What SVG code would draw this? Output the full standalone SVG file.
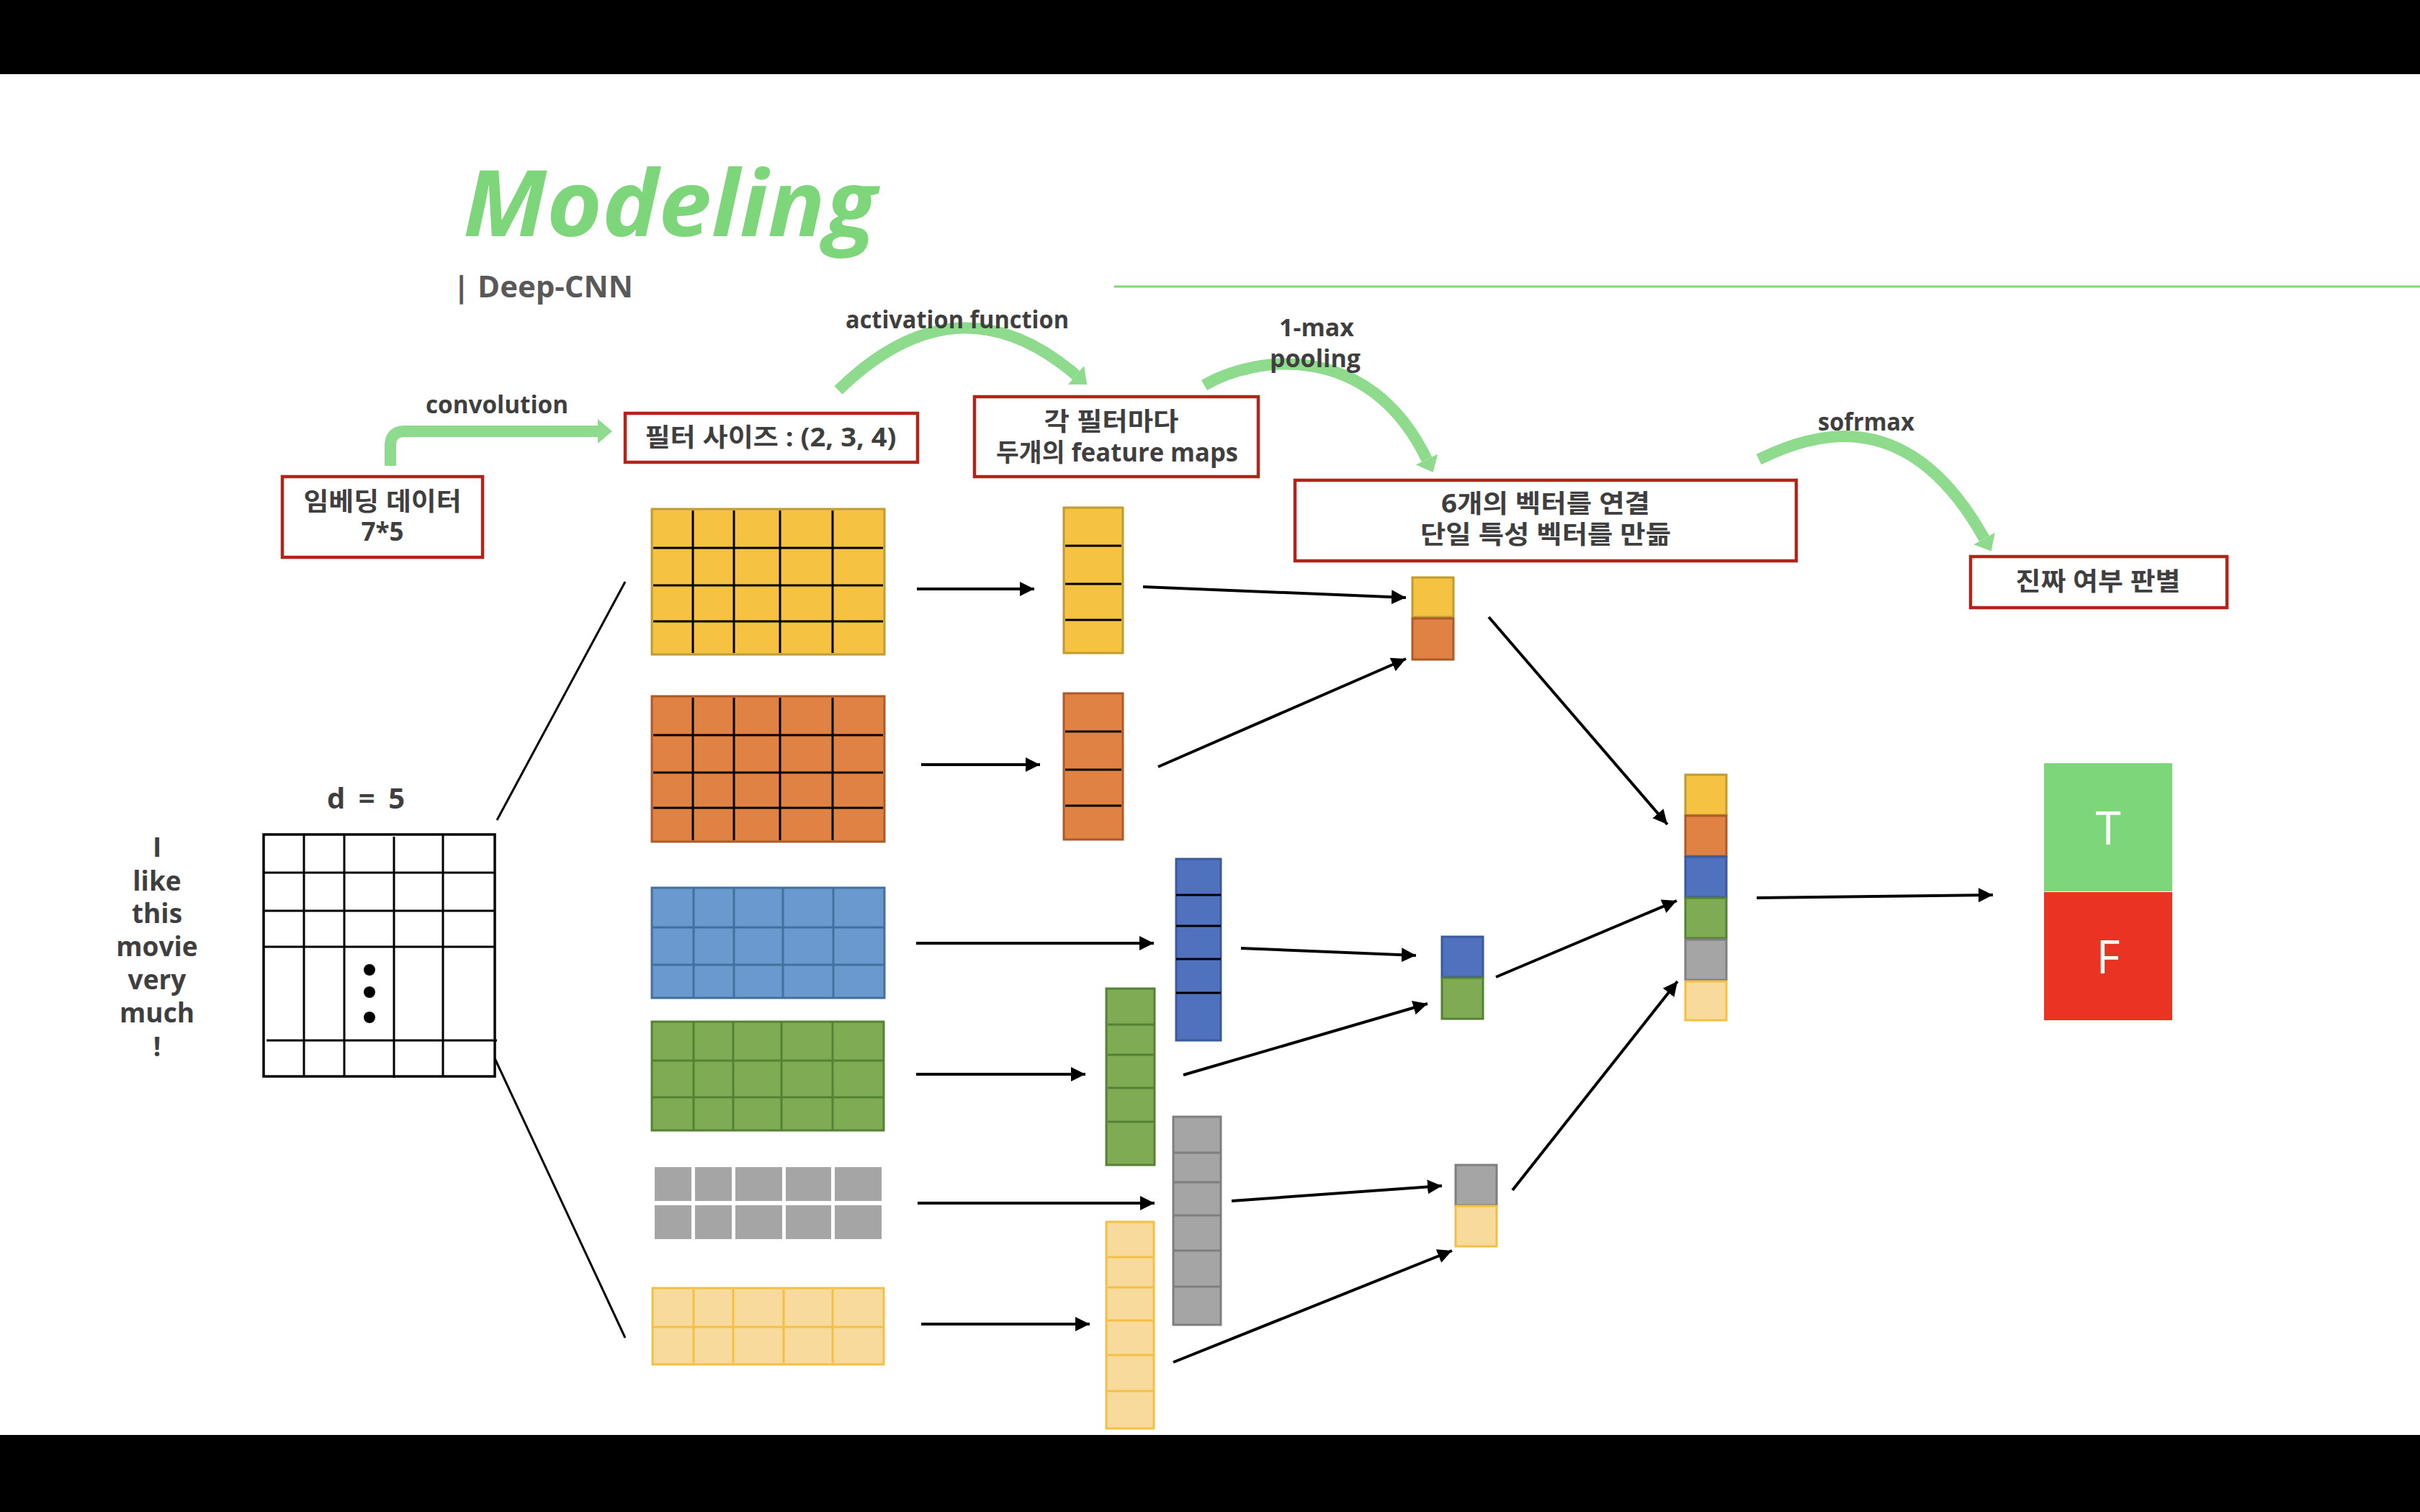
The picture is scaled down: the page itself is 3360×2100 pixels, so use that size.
<svg xmlns="http://www.w3.org/2000/svg" width="3360" height="2100" viewBox="0 0 3360 2100">
<style>
.t{font-family:'Open Sans','Noto Sans CJK KR',sans-serif;font-weight:bold;fill:#3F3F3F;text-anchor:middle}
.lb{font-size:34px}
.bx{font-size:35px}
.box{fill:#fff;stroke:#B2241A;stroke-width:4.5}
.ga{fill:none;stroke:#8EDB8E;stroke-width:16}
.ba{stroke:#000;stroke-width:4;fill:none;marker-end:url(#ah)}
.ln{stroke:#000;stroke-width:3;fill:none}
.k{stroke:#000;stroke-width:3}
.y{fill:#F5C242;stroke:#BF9B30;stroke-width:3}
.o{fill:#E08243;stroke:#AE5A28;stroke-width:3}
.b1{fill:#6A99CF;stroke:#41719C;stroke-width:3}
.b2{fill:#4F71BE;stroke:#3A5A9C;stroke-width:3}
.g{fill:#7FAB55;stroke:#548235;stroke-width:3}
.gr{fill:#A5A5A5;stroke:#7F7F7F;stroke-width:3}
.ly{fill:#F8DA9C;stroke:#F4C043;stroke-width:3}
</style>
<defs>
<marker id="ah" viewBox="0 0 20 20" refX="20" refY="10" markerWidth="20" markerHeight="20" markerUnits="userSpaceOnUse" orient="auto"><path d="M0,0 L20,10 L0,20 z" fill="#000"/></marker>
<marker id="gh" viewBox="0 -17 20 34" refX="0" refY="0" markerWidth="20" markerHeight="34" markerUnits="userSpaceOnUse" orient="auto"><path d="M0,-17 L20,0 L0,17 z" fill="#8EDB8E"/></marker>
</defs>
<rect x="0" y="0" width="3360" height="2100" fill="#fff"/>
<rect x="0" y="0" width="3360" height="103" fill="#000"/>
<rect x="0" y="1993" width="3360" height="107" fill="#000"/>

<g id="title">
<text x="643" y="328" textLength="574" lengthAdjust="spacingAndGlyphs" style="font-family:'Open Sans',sans-serif;font-weight:bold;font-style:italic;font-size:127px;fill:#7ED67B">Modeling</text>
<text x="629" y="413" style="font-family:'Open Sans',sans-serif;font-weight:bold;font-size:42px;fill:#595959">| Deep-CNN</text>
<line x1="1547" y1="398" x2="3360" y2="398" stroke="#7ED67B" stroke-width="3"/>
</g>

<g id="connectors">
<path class="ga" d="M 542 647 V 619 Q 542 599 562 599 H 830" marker-end="url(#gh)"/>
<path class="ga" d="M 1164 542 Q 1330 380 1494 521" marker-end="url(#gh)"/>
<path class="ga" d="M 1672 535 C 1740 495 1900 470 1981 638" marker-end="url(#gh)"/>
<path class="ga" d="M 2442 638 C 2520 600 2650 560 2755 748" marker-end="url(#gh)"/>
<line class="ln" x1="690" y1="1139" x2="868" y2="808"/>
<line class="ln" x1="687" y1="1470" x2="868" y2="1858"/>
<line class="ba" x1="1273" y1="818" x2="1436" y2="818"/>
<line class="ba" x1="1279" y1="1062" x2="1444" y2="1062"/>
<line class="ba" x1="1272" y1="1310" x2="1602" y2="1310"/>
<line class="ba" x1="1272" y1="1492" x2="1507" y2="1492"/>
<line class="ba" x1="1274" y1="1671" x2="1603" y2="1671"/>
<line class="ba" x1="1279" y1="1839" x2="1513" y2="1839"/>
<line class="ba" x1="1587" y1="815" x2="1952" y2="830"/>
<line class="ba" x1="1608" y1="1065" x2="1952" y2="915"/>
<line class="ba" x1="1723" y1="1317" x2="1966" y2="1327"/>
<line class="ba" x1="1643" y1="1493" x2="1982" y2="1394"/>
<line class="ba" x1="1710" y1="1668" x2="2002" y2="1647"/>
<line class="ba" x1="1629" y1="1892" x2="2016" y2="1737"/>
<line class="ba" x1="2067" y1="857" x2="2315" y2="1145"/>
<line class="ba" x1="2077" y1="1357" x2="2328" y2="1251"/>
<line class="ba" x1="2100" y1="1653" x2="2329" y2="1363"/>
<line class="ba" x1="2439" y1="1247" x2="2767" y2="1243"/>
</g>

<g id="labels">
<text class="t lb" x="690" y="574" textLength="198" lengthAdjust="spacingAndGlyphs">convolution</text>
<text class="t lb" x="1329" y="456" textLength="310" lengthAdjust="spacingAndGlyphs">activation function</text>
<text class="t lb" x="1828" y="467">1-max</text>
<text class="t lb" x="1826" y="510">pooling</text>
<text class="t lb" x="2591" y="598" textLength="134" lengthAdjust="spacingAndGlyphs">sofrmax</text>
</g>

<g id="box-embed">
<rect class="box" x="392" y="662" width="278" height="112"/>
<text class="t bx" x="531" y="709" textLength="219" lengthAdjust="spacingAndGlyphs">임베딩 데이터</text>
<text class="t bx" x="531" y="751">7*5</text>
</g>
<g id="box-filter">
<rect class="box" x="868" y="574" width="406" height="68"/>
<text class="t bx" x="1070" y="620" textLength="349" lengthAdjust="spacingAndGlyphs">필터 사이즈 : (2, 3, 4)</text>
</g>
<g id="box-featmaps">
<rect class="box" x="1353" y="551" width="394" height="111"/>
<text class="t bx" x="1543" y="598" textLength="187" lengthAdjust="spacingAndGlyphs">각 필터마다</text>
<text class="t bx" x="1551" y="641" textLength="336" lengthAdjust="spacingAndGlyphs">두개의 feature maps</text>
</g>
<g id="box-concat">
<rect class="box" x="1798" y="667" width="696" height="112"/>
<text class="t bx" x="2146" y="712" textLength="290" lengthAdjust="spacingAndGlyphs">6개의 벡터를 연결</text>
<text class="t bx" x="2146" y="755" textLength="348" lengthAdjust="spacingAndGlyphs">단일 특성 벡터를 만듦</text>
</g>
<g id="box-judge">
<rect class="box" x="2736" y="773" width="356" height="71"/>
<text class="t bx" x="2913" y="820" textLength="229" lengthAdjust="spacingAndGlyphs">진짜 여부 판별</text>
</g>

<g id="sentence">
<text class="t" style="font-size:37px" x="218" y="1190">I</text>
<text class="t" style="font-size:37px" x="218" y="1237">like</text>
<text class="t" style="font-size:37px" x="218" y="1282">this</text>
<text class="t" style="font-size:37px" x="218" y="1328">movie</text>
<text class="t" style="font-size:37px" x="218" y="1374">very</text>
<text class="t" style="font-size:37px" x="218" y="1420">much</text>
<text class="t" style="font-size:37px" x="218" y="1467">!</text>
</g>

<g id="embedding-matrix">
<text class="t" style="font-size:40px" x="508" y="1123" textLength="108">d = 5</text>
<rect x="366" y="1159" width="321" height="336" fill="#fff" stroke="#000" stroke-width="3.5"/>
<g class="k">
<line x1="422" y1="1159" x2="422" y2="1495"/>
<line x1="478" y1="1159" x2="478" y2="1495"/>
<line x1="547" y1="1162" x2="547" y2="1497"/>
<line x1="615" y1="1159" x2="615" y2="1495"/>
<line x1="366" y1="1212" x2="687" y2="1212"/>
<line x1="366" y1="1265" x2="687" y2="1265"/>
<line x1="366" y1="1315" x2="687" y2="1315"/>
<line x1="370" y1="1445" x2="690" y2="1445"/>
</g>
<circle cx="513" cy="1347" r="8"/>
<circle cx="513" cy="1378" r="8"/>
<circle cx="513" cy="1413" r="8"/>
</g>

<g id="filter-yellow">
<rect class="y" x="905" y="707" width="323" height="202"/>
<g class="k">
<line x1="962" y1="709" x2="962" y2="907"/><line x1="1019" y1="709" x2="1019" y2="907"/><line x1="1083" y1="709" x2="1083" y2="907"/><line x1="1156" y1="709" x2="1156" y2="907"/>
<line x1="907" y1="761" x2="1226" y2="761"/><line x1="907" y1="813" x2="1226" y2="813"/><line x1="907" y1="863" x2="1226" y2="863"/>
</g>
</g>
<g id="filter-orange">
<rect class="o" x="905" y="967" width="323" height="202"/>
<g class="k">
<line x1="962" y1="969" x2="962" y2="1167"/><line x1="1019" y1="969" x2="1019" y2="1167"/><line x1="1083" y1="969" x2="1083" y2="1167"/><line x1="1156" y1="969" x2="1156" y2="1167"/>
<line x1="907" y1="1021" x2="1226" y2="1021"/><line x1="907" y1="1073" x2="1226" y2="1073"/><line x1="907" y1="1122" x2="1226" y2="1122"/>
</g>
</g>
<g id="filter-blue">
<rect class="b1" x="905" y="1233" width="323" height="153"/>
<g stroke="#41719C" stroke-width="3">
<line x1="963" y1="1233" x2="963" y2="1386"/><line x1="1019" y1="1233" x2="1019" y2="1386"/><line x1="1087" y1="1233" x2="1087" y2="1386"/><line x1="1157" y1="1233" x2="1157" y2="1386"/>
<line x1="905" y1="1288" x2="1228" y2="1288"/><line x1="905" y1="1340" x2="1228" y2="1340"/>
</g>
</g>
<g id="filter-green">
<rect class="g" x="905" y="1419" width="322" height="151"/>
<g stroke="#548235" stroke-width="3">
<line x1="963" y1="1419" x2="963" y2="1570"/><line x1="1018" y1="1419" x2="1018" y2="1570"/><line x1="1085" y1="1419" x2="1085" y2="1570"/><line x1="1156" y1="1419" x2="1156" y2="1570"/>
<line x1="905" y1="1473" x2="1227" y2="1473"/><line x1="905" y1="1524" x2="1227" y2="1524"/>
</g>
</g>
<g id="filter-gray" fill="#A5A5A5">
<rect x="909" y="1621" width="51" height="47"/><rect x="965" y="1621" width="51" height="47"/><rect x="1021" y="1621" width="65" height="47"/><rect x="1091" y="1621" width="63" height="47"/><rect x="1159" y="1621" width="65" height="47"/>
<rect x="909" y="1674" width="51" height="47"/><rect x="965" y="1674" width="51" height="47"/><rect x="1021" y="1674" width="65" height="47"/><rect x="1091" y="1674" width="63" height="47"/><rect x="1159" y="1674" width="65" height="47"/>
</g>
<g id="filter-lightyellow">
<rect class="ly" x="906" y="1789" width="321" height="106"/>
<g stroke="#F4C043" stroke-width="3">
<line x1="963" y1="1791" x2="963" y2="1893"/><line x1="1018" y1="1791" x2="1018" y2="1893"/><line x1="1088" y1="1791" x2="1088" y2="1893"/><line x1="1156" y1="1791" x2="1156" y2="1893"/>
<line x1="906" y1="1843" x2="1227" y2="1843"/>
</g>
</g>

<g id="map-yellow">
<rect class="y" x="1477" y="705" width="82" height="202"/>
<g class="k"><line x1="1479" y1="758" x2="1557" y2="758"/><line x1="1479" y1="811" x2="1557" y2="811"/><line x1="1479" y1="861" x2="1557" y2="861"/></g>
</g>
<g id="map-orange">
<rect class="o" x="1477" y="963" width="82" height="203"/>
<g class="k"><line x1="1479" y1="1016" x2="1557" y2="1016"/><line x1="1479" y1="1069" x2="1557" y2="1069"/><line x1="1479" y1="1119" x2="1557" y2="1119"/></g>
</g>
<g id="map-blue">
<rect class="b2" x="1633" y="1193" width="62" height="252"/>
<g class="k"><line x1="1633" y1="1243" x2="1695" y2="1243"/><line x1="1633" y1="1286" x2="1695" y2="1286"/><line x1="1633" y1="1332" x2="1695" y2="1332"/><line x1="1633" y1="1379" x2="1695" y2="1379"/></g>
</g>
<g id="map-green">
<rect class="g" x="1536" y="1373" width="67" height="245"/>
<g stroke="#548235" stroke-width="3"><line x1="1538" y1="1423" x2="1603" y2="1423"/><line x1="1538" y1="1465" x2="1603" y2="1465"/><line x1="1538" y1="1511" x2="1603" y2="1511"/><line x1="1538" y1="1558" x2="1603" y2="1558"/></g>
</g>
<g id="map-gray">
<rect class="gr" x="1629" y="1551" width="66" height="289"/>
<g stroke="#7F7F7F" stroke-width="3"><line x1="1629" y1="1601" x2="1695" y2="1601"/><line x1="1629" y1="1642" x2="1695" y2="1642"/><line x1="1629" y1="1688" x2="1695" y2="1688"/><line x1="1629" y1="1737" x2="1695" y2="1737"/><line x1="1629" y1="1787" x2="1695" y2="1787"/></g>
</g>
<g id="map-lightyellow">
<rect class="ly" x="1536" y="1697" width="66" height="287"/>
<g stroke="#F4C043" stroke-width="3"><line x1="1538" y1="1746" x2="1603" y2="1746"/><line x1="1538" y1="1788" x2="1603" y2="1788"/><line x1="1536" y1="1834" x2="1602" y2="1834"/><line x1="1538" y1="1882" x2="1603" y2="1882"/><line x1="1536" y1="1932" x2="1602" y2="1932"/></g>
</g>

<g id="pool-yellow-orange">
<rect class="y" x="1961" y="802" width="57" height="55"/>
<rect class="o" x="1961" y="859" width="57" height="57"/>
</g>
<g id="pool-blue-green">
<rect class="b2" x="2002" y="1301" width="57" height="56"/>
<rect class="g" x="2002" y="1358" width="57" height="57"/>
</g>
<g id="pool-gray-lightyellow">
<rect class="gr" x="2021" y="1618" width="57" height="56"/>
<rect class="ly" x="2021" y="1675" width="57" height="56"/>
</g>

<g id="concat-vector">
<rect class="y" x="2340" y="1076" width="57" height="56"/>
<rect class="o" x="2340" y="1133" width="57" height="56"/>
<rect class="b2" x="2340" y="1190" width="57" height="56"/>
<rect class="g" x="2340" y="1247" width="57" height="56"/>
<rect class="gr" x="2340" y="1305" width="57" height="56"/>
<rect class="ly" x="2340" y="1363" width="57" height="54"/>
</g>

<g id="output-TF">
<rect x="2838" y="1060" width="178" height="178" fill="#7ED67B"/>
<rect x="2838" y="1239" width="178" height="178" fill="#EA3323"/>
<text x="2927" y="1173" style="font-family:'Open Sans',sans-serif;font-size:64px;fill:#fff;text-anchor:middle">T</text>
<text x="2927" y="1352" style="font-family:'Open Sans',sans-serif;font-size:64px;fill:#fff;text-anchor:middle">F</text>
</g>
</svg>
